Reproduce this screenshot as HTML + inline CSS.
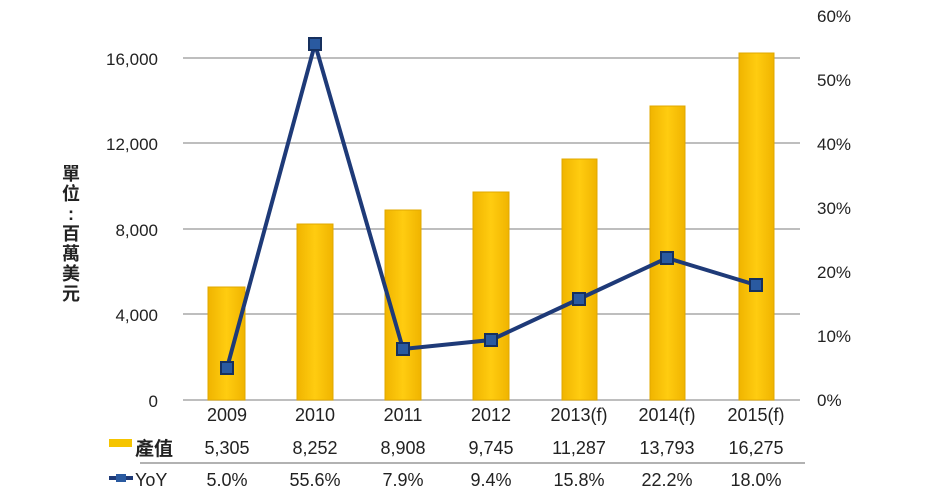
<!DOCTYPE html>
<html><head><meta charset="utf-8"><style>
body{margin:0;background:#fff;}
svg text{font-family:"Liberation Sans","Noto Sans CJK TC",sans-serif;fill:#222;}
</style></head><body>
<svg width="951" height="495" xmlns="http://www.w3.org/2000/svg">
<defs><linearGradient id="g" x1="0" x2="1"><stop offset="0" stop-color="#f0b400"/><stop offset="0.5" stop-color="#ffcc10"/><stop offset="1" stop-color="#f0b400"/></linearGradient></defs>
<g stroke="#a8a8a8" stroke-width="1.5">
<line x1="183" x2="800" y1="58" y2="58"/><line x1="183" x2="800" y1="143" y2="143"/>
<line x1="183" x2="800" y1="229" y2="229"/><line x1="183" x2="800" y1="314" y2="314"/>
<line x1="183" x2="800" y1="400" y2="400"/>
</g>
<g font-size="17" text-anchor="end">
<text x="158" y="65">16,000</text><text x="158" y="150">12,000</text><text x="158" y="236">8,000</text><text x="158" y="321">4,000</text><text x="158" y="407">0</text>
</g>
<g font-size="17">
<text x="817" y="22">60%</text><text x="817" y="86">50%</text><text x="817" y="150">40%</text><text x="817" y="214">30%</text><text x="817" y="278">20%</text><text x="817" y="342">10%</text><text x="817" y="406">0%</text>
</g>
<g font-size="18" font-weight="bold" text-anchor="middle">
<text x="71" y="180">單</text><text x="71" y="200">位</text><text x="71" y="220">:</text><text x="71" y="240">百</text><text x="71" y="260">萬</text><text x="71" y="280">美</text><text x="71" y="300">元</text>
</g>
<g fill="url(#g)" stroke="#e0a800" stroke-width="1">
<rect x="208" y="287" width="37" height="113"/>
<rect x="297" y="224" width="36" height="176"/>
<rect x="385" y="210" width="36" height="190"/>
<rect x="473" y="192" width="36" height="208"/>
<rect x="562" y="159" width="35" height="241"/>
<rect x="650" y="106" width="35" height="294"/>
<rect x="739" y="53" width="35" height="347"/>
</g>
<polyline points="227,368 315,44 403,349 491,340 579,299 667,258 756,285" fill="none" stroke="#1e3a78" stroke-width="4"/>
<g fill="#2a5aa0" stroke="#16305e" stroke-width="2">
<rect x="221" y="362" width="12" height="12"/><rect x="309" y="38" width="12" height="12"/>
<rect x="397" y="343" width="12" height="12"/><rect x="485" y="334" width="12" height="12"/>
<rect x="573" y="293" width="12" height="12"/><rect x="661" y="252" width="12" height="12"/>
<rect x="750" y="279" width="12" height="12"/>
</g>
<line x1="140" x2="805" y1="463" y2="463" stroke="#999" stroke-width="1.5"/>
<g font-size="18" text-anchor="middle">
<text x="227" y="421">2009</text><text x="315" y="421">2010</text><text x="403" y="421">2011</text><text x="491" y="421">2012</text><text x="579" y="421">2013(f)</text><text x="667" y="421">2014(f)</text><text x="756" y="421">2015(f)</text>
<text x="227" y="454">5,305</text><text x="315" y="454">8,252</text><text x="403" y="454">8,908</text><text x="491" y="454">9,745</text><text x="579" y="454">11,287</text><text x="667" y="454">13,793</text><text x="756" y="454">16,275</text>
<text x="227" y="486">5.0%</text><text x="315" y="486">55.6%</text><text x="403" y="486">7.9%</text><text x="491" y="486">9.4%</text><text x="579" y="486">15.8%</text><text x="667" y="486">22.2%</text><text x="756" y="486">18.0%</text>
</g>
<rect x="109" y="439" width="23" height="8" fill="#f5c400"/>
<text x="135" y="455" font-size="19" font-weight="bold">產值</text>
<line x1="109" x2="133" y1="478" y2="478" stroke="#1e3a78" stroke-width="4"/>
<rect x="116" y="474" width="10" height="8" fill="#2a5aa0"/>
<text x="135" y="486" font-size="18">YoY</text>
</svg>
</body></html>
